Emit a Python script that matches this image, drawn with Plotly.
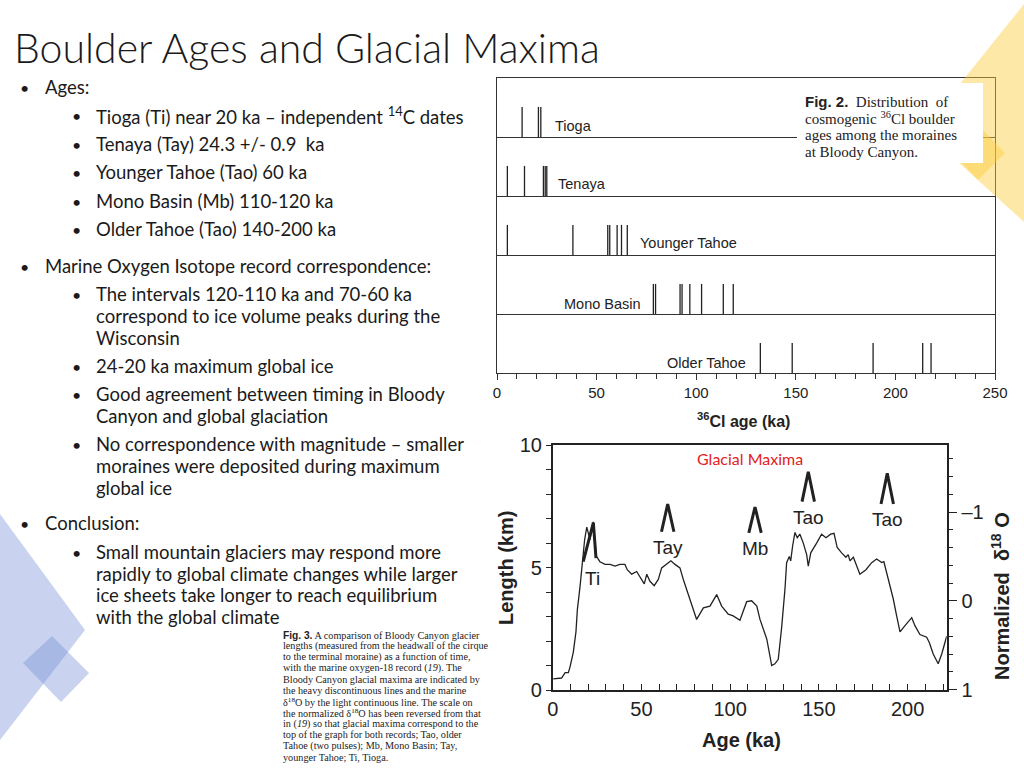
import plotly.graph_objects as go

W, H = 1024, 768
def px(x): return x / W
def py(y): return 1 - y / H

# ---------------- Fig. 2 data: cosmogenic 36Cl boulder ages (ka) ----------------
panel_names = ["Older Tahoe", "Mono Basin", "Younger Tahoe", "Tenaya", "Tioga"]
ages_older_tahoe = [132.2, 148.2, 188.8, 213.7, 217.9]
ages_mono_basin = [78.5, 79.6, 91.9, 92.9, 96.8, 102.7, 113.6, 118.6]
ages_younger_tahoe = [5.2, 38.1, 55.6, 56.6, 60.3, 62.5, 65.4]
ages_tenaya = [5.2, 13.8, 23.3, 24.2, 25.0]
ages_tioga = [12.6, 20.8, 22.0]
top_ticks = [0, 50, 100, 150, 200, 250]

# ---------------- Fig. 3 data: normalized d18O record and glacial maxima ----------------
d18o_age = [0.3, 5, 7, 8.8, 9.7, 11.6, 13.1, 13.9, 15.4, 16.9, 18, 19.2, 21.0, 22.9, 24.6, 26.6,
            29.5, 32.3, 35.1, 37.9, 40.7, 42, 44.5, 47.3, 49.6, 51.6, 53, 54.8, 57.2, 59.5, 61.4,
            64.2, 66.6, 68.9, 71.7, 73.6, 77.4, 81.1, 84.9, 88.6, 92.4, 95.2, 98.9, 101.7, 105.5,
            109.3, 112.1, 115, 116.8, 120.6, 123.4, 125.2, 127.1, 129, 130.9, 131.8, 133.3, 134.1,
            135.2, 136.5, 137.8, 139.3, 141.2, 143.1, 144, 145.4, 148.7, 151.5, 154, 156.6, 158.5,
            160.3, 162.8, 165.2, 166.5, 167.5, 169.4, 171.3, 173.1, 176.5, 179.7, 182.5, 185.4,
            186.6, 189.1, 191.9, 193.8, 195.7, 198.5, 202.3, 204.1, 206.9, 210.7, 212.2, 214.4,
            217.2, 219.2, 222]
d18o_norm = [0.88, 0.87, 0.81, 0.81, 0.75, 0.58, 0.35, 0.10, -0.16, -0.47, -0.69, -0.83, -0.69,
             -0.89, -0.50, -0.44, -0.41, -0.41, -0.39, -0.41, -0.41, -0.35, -0.30, -0.33, -0.26,
             -0.19, -0.30, -0.22, -0.17, -0.24, -0.37, -0.41, -0.45, -0.41, -0.37, -0.24, -0.02,
             0.21, 0.08, 0.06, -0.07, 0.06, 0.15, 0.17, 0.22, 0.01, 0.00, 0.06, 0.21, 0.43, 0.73,
             0.71, 0.66, 0.30, -0.14, -0.43, -0.50, -0.45, -0.62, -0.77, -0.71, -0.75, -0.65,
             -0.52, -0.39, -0.54, -0.65, -0.75, -0.71, -0.75, -0.76, -0.60, -0.54, -0.49, -0.52,
             -0.45, -0.49, -0.40, -0.30, -0.35, -0.43, -0.47, -0.43, -0.44, -0.24, -0.02, 0.17,
             0.35, 0.28, 0.19, 0.28, 0.38, 0.41, 0.47, 0.60, 0.71, 0.60, 0.40]
ti_age = [17.2, 20.4, 22.9, 24.4]
ti_length = [5.24, 6.2, 6.83, 5.38]
maxima_labels = ["Tay", "Mb", "Tao", "Tao"]
maxima_age = [64.8, 114.0, 144.0, 188.5]
maxima_apex_km = [7.59, 7.47, 8.91, 8.84]
maxima_base_km = [6.46, 6.41, 7.69, 7.59]

INK = "#222222"
TXT = "#1a1a1a"
AR = "Liberation Sans"
BODY = "Lato"
SERIF = "Liberation Serif"
CX, CY = "x3", "y4"   # full-canvas pixel axes for slide decoration & text

fig = go.Figure()

# ---- Fig. 2 traces
panel_ages = [ages_older_tahoe, ages_mono_basin, ages_younger_tahoe, ages_tenaya, ages_tioga]
for i, (name, ages) in enumerate(zip(panel_names, panel_ages)):
    xs, ys = [], []
    for a in ages:
        xs += [a, a, None]
        ys += [i, i + 0.51, None]
    fig.add_trace(go.Scatter(x=xs, y=ys, mode="lines", name=name, showlegend=False,
                             line=dict(color=INK, width=1.3), xaxis="x", yaxis="y",
                             hoverinfo="skip"))

# ---- Fig. 3 traces
fig.add_trace(go.Scatter(x=d18o_age, y=d18o_norm, mode="lines", showlegend=False,
                         line=dict(color=INK, width=1.3), xaxis="x2", yaxis="y3"))
fig.add_trace(go.Scatter(x=ti_age, y=ti_length, mode="lines", showlegend=False,
                         line=dict(color=INK, width=3), xaxis="x2", yaxis="y2"))
for lab, a, top, base in zip(maxima_labels, maxima_age, maxima_apex_km, maxima_base_km):
    fig.add_trace(go.Scatter(x=[a - 3.5, a, a + 3.5], y=[base, top, base], mode="lines",
                             showlegend=False, line=dict(color=INK, width=3),
                             xaxis="x2", yaxis="y2"))

# invisible trace to materialise the canvas axes
fig.add_trace(go.Scatter(x=[0], y=[0], mode="markers", marker=dict(opacity=0),
                         showlegend=False, hoverinfo="skip", xaxis=CX, yaxis=CY))

ann = []
def txt(x, y, t, size, family=BODY, color=TXT, xa="left", ya="middle", angle=0, weight=None):
    f = dict(family=family, size=size, color=color)
    if weight:
        f["weight"] = weight
    ann.append(dict(x=x, y=y, xref=CX, yref=CY, text=t, showarrow=False, xanchor=xa,
                    yanchor=ya, textangle=angle, font=f))

for name, ax_, ay_, xa in [
        ("Older Tahoe", 126.0, 0.17, "right"),
        ("Mono Basin", 73.1, 1.17, "right"),
        ("Younger Tahoe", 70.6, 2.2, "left"),
        ("Tenaya", 29.7, 3.2, "left"),
        ("Tioga", 28.2, 4.19, "left")]:
    ann.append(dict(x=ax_, y=ay_, xref="x", yref="y", text=name, showarrow=False,
                    xanchor=xa, yanchor="middle", font=dict(family=AR, size=14.5, color=INK)))

for lab, a, base in zip(maxima_labels, maxima_age, maxima_base_km):
    ann.append(dict(x=a, y=base, xref="x2", yref="y2", text=lab, showarrow=False,
                    xanchor="center", yanchor="top", yshift=-3,
                    font=dict(family=AR, size=19, color=INK)))
ann.append(dict(x=22.7, y=4.57, xref="x2", yref="y2", text="Ti", showarrow=False,
                xanchor="center", yanchor="middle", font=dict(family=AR, size=19, color=INK)))

# axis titles
txt(743, 420, "<b><sup>36</sup>Cl age (ka)</b>", 16, AR, INK, "center")
txt(741, 740, "<b>Age (ka)</b>", 20, AR, INK, "center")
txt(506, 568, "<b>Length (km)</b>", 20, AR, INK, "center", angle=-90)
txt(1000, 596, "<b>Normalized  δ<sup>18</sup> O</b>", 20, AR, INK, "center", angle=-90)
txt(750, 458, "Glacial Maxima", 16, BODY, "#E32222", "center")

# Slide title
txt(12, 47, "Boulder Ages and Glacial Maxima", 41, BODY, TXT, weight=300)

body = [
    (1, 87, "Ages:"),
    (2, 115, "Tioga (Ti) near 20 ka – independent <sup>14</sup>C dates"),
    (2, 144, "Tenaya (Tay) 24.3 +/- 0.9  ka"),
    (2, 172, "Younger Tahoe (Tao) 60 ka"),
    (2, 201, "Mono Basin (Mb) 110-120 ka"),
    (2, 229, "Older Tahoe (Tao) 140-200 ka"),
    (1, 266, "Marine Oxygen Isotope record correspondence:"),
    (2, 294, "The intervals 120-110 ka and 70-60 ka"),
    (0, 316, "correspond to ice volume peaks during the"),
    (0, 338, "Wisconsin"),
    (2, 366, "24-20 ka maximum global ice"),
    (2, 394, "Good agreement between timing in Bloody"),
    (0, 416, "Canyon and global glaciation"),
    (2, 444, "No correspondence with magnitude – smaller"),
    (0, 466, "moraines were deposited during maximum"),
    (0, 488, "global ice"),
    (1, 523, "Conclusion:"),
    (2, 552, "Small mountain glaciers may respond more"),
    (0, 574, "rapidly to global climate changes while larger"),
    (0, 595, "ice sheets take longer to reach equilibrium"),
    (0, 617, "with the global climate"),
]
for lvl, y, t in body:
    if lvl == 1:
        txt(18, y, "•", 16)
    elif lvl == 2:
        txt(70, y, "•", 16)
    txt(43 if lvl == 1 else 94, y, t, 18.5)

# Fig. 2 caption (on white box)
fig2_lines = [
    "<span style='font-family:Liberation Sans'><b>Fig. 2.</b></span>  Distribution  of",
    "cosmogenic <sup>36</sup>Cl boulder",
    "ages among the moraines",
    "at Bloody Canyon.",
]
for k, t in enumerate(fig2_lines):
    txt(803, 101 + 17 * k, t, 15, SERIF, INK)

fig3_lines = [
    "<span style='font-family:Liberation Sans'><b>Fig. 3.</b></span> A comparison of Bloody Canyon glacier",
    "lengths (measured from the headwall of the cirque",
    "to the terminal moraine) as a function of time,",
    "with the marine oxygen-18 record (<i>19</i>). The",
    "Bloody Canyon glacial maxima are indicated by",
    "the heavy discontinuous lines and the marine",
    "δ<sup>18</sup>O by the light continuous line. The scale on",
    "the normalized δ<sup>18</sup>O has been reversed from that",
    "in (<i>19</i>) so that glacial maxima correspond to the",
    "top of the graph for both records; Tao, older",
    "Tahoe (two pulses); Mb, Mono Basin; Tay,",
    "younger Tahoe; Ti, Tioga.",
]
for k, t in enumerate(fig3_lines):
    txt(281, 635 + 11.1 * k, t, 10.2, SERIF, INK)

def poly(pts):
    return "M " + " L ".join(f"{x},{y}" for x, y in pts) + " Z"

shapes = [
    dict(type="path", path=poly([(1024, 4), (923, 130), (1024, 222)]), xref=CX, yref=CY,
         fillcolor="rgba(253,205,60,0.45)", line=dict(width=0), layer="below"),
    dict(type="path", path=poly([(980, 127), (1005, 153), (978, 180), (954, 155)]), xref=CX,
         yref=CY, fillcolor="rgba(253,205,60,0.45)", line=dict(width=0), layer="below"),
    dict(type="path", path=poly([(0, 514), (85, 630), (0, 740)]), xref=CX, yref=CY,
         fillcolor="rgba(120,146,214,0.40)", line=dict(width=0), layer="below"),
    dict(type="path", path=poly([(52, 636), (89, 673), (61, 702), (23, 663)]), xref=CX,
         yref=CY, fillcolor="rgba(120,146,214,0.40)", line=dict(width=0), layer="below"),
    dict(type="rect", x0=797, x1=983, y0=83, y1=163, xref=CX, yref=CY,
         fillcolor="white", line=dict(width=0), layer="above"),
]

fig.update_layout(
    width=W, height=H, margin=dict(l=0, r=0, t=0, b=0, pad=0, autoexpand=False),
    paper_bgcolor="white", plot_bgcolor="rgba(0,0,0,0)",
    showlegend=False, annotations=ann, shapes=shapes, hovermode=False,
    xaxis=dict(domain=[px(497), px(995)], range=[0, 250], anchor="y", automargin=False,
               showline=True, linecolor="#333", linewidth=1.3, mirror=True,
               tickvals=top_ticks, ticks="outside", ticklen=6, tickcolor="#333",
               minor=dict(dtick=10, tick0=0, ticks="outside", ticklen=5, tickcolor="#333"),
               tickfont=dict(family=AR, size=15, color=INK), showgrid=False, zeroline=False),
    yaxis=dict(domain=[py(373), py(78)], range=[0, 5], anchor="x", automargin=False,
               showline=True, linecolor="#333", linewidth=1.3, mirror=True,
               tickvals=[1, 2, 3, 4], showticklabels=False, ticks="",
               showgrid=True, gridcolor="#333", gridwidth=1.3, zeroline=False),
    xaxis2=dict(domain=[px(552.7), px(946.7)], range=[0, 222], anchor="y2", automargin=False,
                showline=True, linecolor=INK, linewidth=1.5, mirror=True,
                tickvals=[0, 50, 100, 150, 200], ticks="inside", ticklen=6, tickcolor=INK,
                minor=dict(dtick=10, tick0=0, ticks="inside", ticklen=6, tickcolor=INK),
                ticklabelstandoff=0,
                tickfont=dict(family=AR, size=20, color=INK), showgrid=False, zeroline=False),
    yaxis2=dict(domain=[py(690), py(445)], range=[0, 10], anchor="x2", automargin=False,
                showline=True, linecolor=INK, linewidth=1.5,
                tickvals=[0, 5, 10], ticks="outside", ticklen=5, tickcolor=INK,
                minor=dict(dtick=1, tick0=0, ticks="outside", ticklen=5, tickcolor=INK),
                tickfont=dict(family=AR, size=20, color=INK), showgrid=False, zeroline=False),
    yaxis3=dict(overlaying="y2", side="right", anchor="x2", range=[1.005, -1.755],
                automargin=False, showline=True, linecolor=INK, linewidth=1.5,
                tickvals=[-1, 0, 1], ticktext=["–1", "0", "1"],
                ticks="outside", ticklen=9, tickcolor=INK,
                minor=dict(dtick=0.2, tick0=0, ticks="outside", ticklen=5, tickcolor=INK),
                tickfont=dict(family=AR, size=20, color=INK), showgrid=False, zeroline=False),
    xaxis3=dict(domain=[0, 1], range=[0, W], anchor="y4", visible=False, automargin=False,
                fixedrange=True),
    yaxis4=dict(domain=[0, 1], range=[H, 0], anchor="x3", visible=False, automargin=False,
                fixedrange=True),
)

fig.write_html("out.html", config={"displayModeBar": False},
               post_script="document.body.style.margin='0px';document.body.style.overflow='hidden';")
